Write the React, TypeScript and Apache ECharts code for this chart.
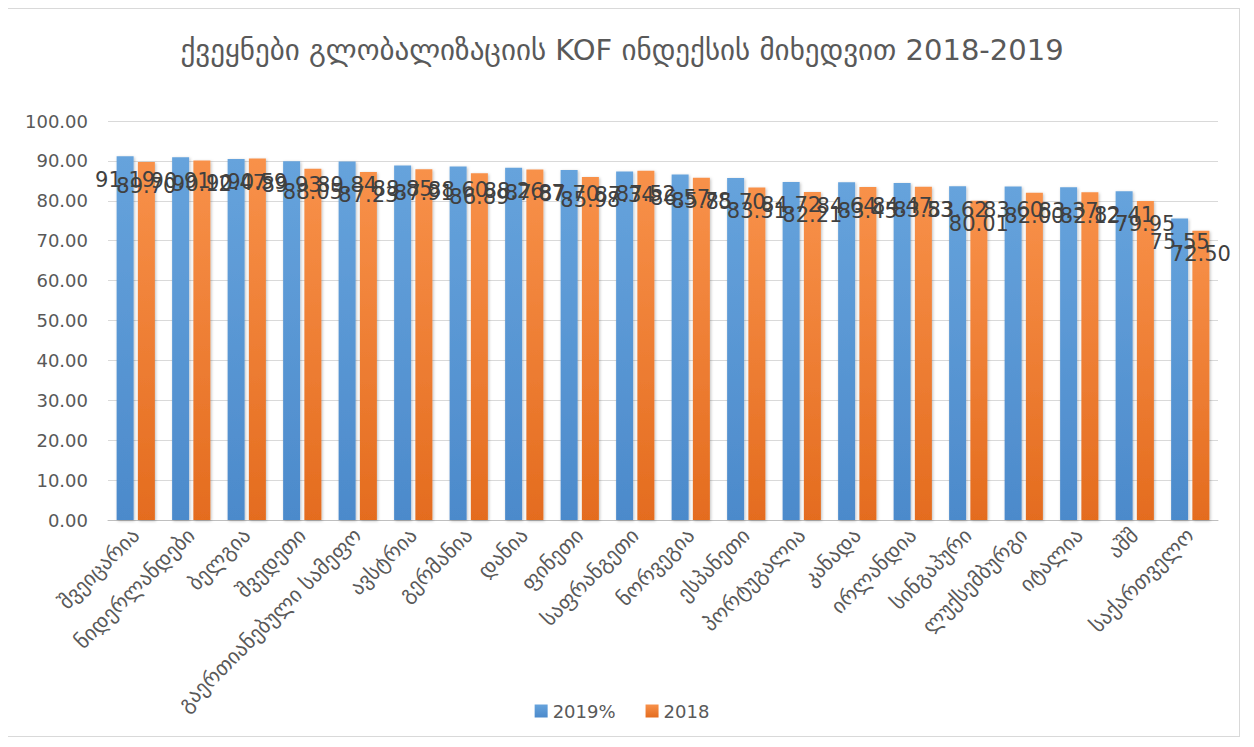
import React, { useEffect, useRef } from "react";
import * as echarts from "echarts";

const categories = [
  "შვეიცარია",
  "ნიდერლანდები",
  "ბელგია",
  "შვედეთი",
  "გაერთიანებული სამეფო",
  "ავსტრია",
  "გერმანია",
  "დანია",
  "ფინეთი",
  "საფრანგეთი",
  "ნორვეგია",
  "ესპანეთი",
  "პორტუგალია",
  "კანადა",
  "ირლანდია",
  "სინგაპური",
  "ლუქსემბურგი",
  "იტალია",
  "აშშ",
  "საქართველო",
];

const values2019 = [
  91.19, 90.91, 90.47, 89.93, 89.84, 88.85, 88.6, 88.26, 87.7, 87.34, 86.57, 85.7,
  84.72, 84.64, 84.47, 83.62, 83.6, 83.37, 82.41, 75.55,
];

const values2018 = [
  89.7, 90.12, 90.59, 88.05, 87.23, 87.91, 86.89, 87.87, 85.98, 87.52, 85.78, 83.31,
  82.21, 83.45, 83.53, 80.01, 82.0, 82.12, 79.95, 72.5,
];

const seriesNames = ["2019%", "2018"];
const titleText = "ქვეყნები გლობალიზაციის KOF ინდექსის მიხედვით 2018-2019";

const FONT = "'DejaVu Sans', 'Noto Sans', sans-serif";

export default function App() {
  const ref = useRef<HTMLDivElement>(null);

  useEffect(() => {
    if (!ref.current) return;
    const chart = echarts.init(ref.current, null, { renderer: "svg" });
    const label = {
      show: true,
      position: "insideTop",
      distance: 13,
      color: "#404040",
      fontSize: 21,
      fontFamily: FONT,
      formatter: (p: any) => Number(p.value).toFixed(2),
    };
    chart.setOption({
      animation: false,
      backgroundColor: "#ffffff",
      title: {
        text: titleText,
        left: "center",
        top: 21,
        textStyle: {
          color: "#595959",
          fontSize: 29,
          fontWeight: "normal",
          fontFamily: FONT,
        },
      },
      legend: {
        bottom: 11,
        left: "center",
        itemWidth: 13,
        itemHeight: 13,
        itemGap: 30,
        icon: "rect",
        textStyle: { color: "#595959", fontSize: 18, fontFamily: FONT },
        data: seriesNames,
      },
      grid: { left: 103, right: 21, top: 112, bottom: 216 },
      xAxis: {
        type: "category",
        data: categories,
        axisLine: { lineStyle: { color: "#bfbfbf", width: 1 } },
        axisTick: { show: false },
        axisLabel: {
          rotate: 45,
          interval: 0,
          color: "#595959",
          fontSize: 21,
          fontFamily: FONT,
          margin: 12,
        },
      },
      yAxis: {
        type: "value",
        min: 0,
        max: 100,
        interval: 10,
        axisLine: { show: false },
        axisTick: { show: false },
        splitLine: { lineStyle: { color: "#d9d9d9", width: 1 } },
        axisLabel: {
          color: "#595959",
          fontSize: 18,
          fontFamily: FONT,
          margin: 20,
          formatter: (v: number) => v.toFixed(2),
        },
      },
      series: [
        {
          name: seriesNames[0],
          type: "bar",
          data: values2019,
          barWidth: 17,
          barGap: "25%",
          itemStyle: {
            color: new echarts.graphic.LinearGradient(0, 0, 0, 1, [
              { offset: 0, color: "#66a3dc" },
              { offset: 1, color: "#4c8acb" },
            ]),
            shadowColor: "rgba(0,0,0,0.25)",
            shadowBlur: 3,
            shadowOffsetX: 1,
            shadowOffsetY: 1,
          },
          label,
        },
        {
          name: seriesNames[1],
          type: "bar",
          data: values2018,
          barWidth: 17,
          itemStyle: {
            color: new echarts.graphic.LinearGradient(0, 0, 0, 1, [
              { offset: 0, color: "#f8914a" },
              { offset: 1, color: "#e46c1f" },
            ]),
            shadowColor: "rgba(0,0,0,0.25)",
            shadowBlur: 3,
            shadowOffsetX: 1,
            shadowOffsetY: 1,
          },
          label,
        },
      ],
    });
    return () => chart.dispose();
  }, []);

  return (
    <div
      style={{
        width: 1236,
        height: 729,
        border: "1px solid #d9d9d9",
        boxSizing: "border-box",
        marginLeft: -4,
      }}
    >
      <div ref={ref} style={{ width: "100%", height: "100%" }} />
    </div>
  );
}
